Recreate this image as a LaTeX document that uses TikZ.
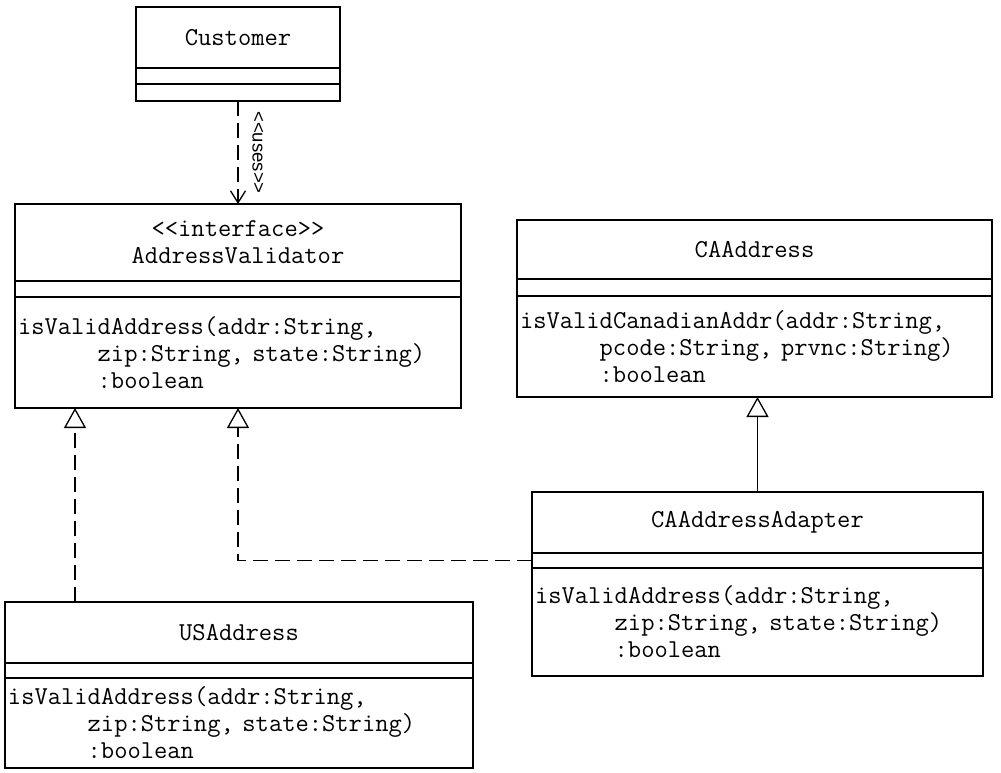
\documentclass[tikz,border=0pt]{standalone}
\usepackage{fontspec}
\setmonofont{Latin Modern Mono}[Ligatures=TeXOff]
\newfontfamily\usesfont{Liberation Sans}[Ligatures=TeXOff]
\usetikzlibrary{positioning, arrows.meta}
\newcommand{\mind}{\hphantom{123456}}
\tikzset{
  uml/.style={draw, line width=1.3pt, outer sep=0pt, inner sep=0pt,
    font=\ttfamily\fontsize{25.8pt}{27pt}\selectfont},
  cname/.style={uml, align=center},
  cmeth/.style={uml, align=left, inner xsep=3pt},
  dep/.style={line width=1.3pt, dash pattern=on 15pt off 7pt,
    -{Straight Barb[length=12pt, width=15pt]}},
  real/.style={line width=1.3pt, dash pattern=on 15pt off 7pt,
    -{Triangle[open, length=20pt, width=22pt, fill=white]}},
  gen/.style={line width=1.3pt, -{Triangle[open, length=20pt, width=22pt, fill=white]}}
}
\begin{document}
\begin{tikzpicture}[x=1pt, y=-1pt]
                \useasboundingbox (0,0) rectangle (1001,772);
                \node[cname, minimum width=204pt, minimum height=61pt, anchor=north] (cust) at (238,7) {Customer};
                \node[uml, minimum width=204pt, minimum height=16pt, below=0pt of cust] (cust-a) {};
                \node[uml, minimum width=204pt, minimum height=17pt, below=0pt of cust-a] (cust-m) {};
                \node[cname, minimum width=446pt, minimum height=77pt, anchor=north] (av) at (238,204) {<<interface>>\\AddressValidator};
                \node[uml, minimum width=446pt, minimum height=16pt, below=0pt of av] (av-a) {};
                \node[cmeth, minimum width=446pt, text width=440pt, minimum height=111pt, below=0pt of av-a] (av-m)
                  {isValidAddress(addr:String,\\\mind zip:String, state:String)\\\mind :boolean};
                \node[cname, minimum width=475pt, minimum height=59pt, anchor=north] (ca) at (754.5,220) {CAAddress};
                \node[uml, minimum width=475pt, minimum height=17pt, below=0pt of ca] (ca-a) {};
                \node[cmeth, minimum width=475pt, text width=469pt, minimum height=101pt, below=0pt of ca-a] (ca-m)
                  {isValidCanadianAddr(addr:String,\\\mind pcode:String, prvnc:String)\\\mind :boolean};
                \node[cname, minimum width=451pt, minimum height=61pt, anchor=north] (ada) at (757.5,492) {CAAddressAdapter};
                \node[uml, minimum width=451pt, minimum height=15pt, below=0pt of ada] (ada-a) {};
                \node[cmeth, minimum width=451pt, text width=445pt, minimum height=108pt, below=0pt of ada-a] (ada-m)
                  {isValidAddress(addr:String,\\\mind zip:String, state:String)\\\mind :boolean};
                \node[cname, minimum width=468pt, minimum height=61pt, anchor=north] (us) at (239,602) {USAddress};
                \node[uml, minimum width=468pt, minimum height=15pt, below=0pt of us] (us-a) {};
                \node[cmeth, minimum width=468pt, text width=462pt, minimum height=90pt, below=0pt of us-a] (us-m)
                  {isValidAddress(addr:String,\\\mind zip:String, state:String)\\\mind :boolean};
                \draw[dep] (cust-m.south) -- node[pos=0.5, xshift=20pt, rotate=-90,
                  font=\usesfont\fontsize{18.5pt}{20pt}\selectfont] {<<uses>>} (av.north);
                \draw[real] ([xshift=70pt]us.north west) -- ([xshift=70pt]us.north west |- av-m.south);
                \draw[real] (ada-a.west) -| (av-m.south);
                \draw[gen] (ada.north) -- (ada.north |- ca-m.south);
\end{tikzpicture}
\end{document}
